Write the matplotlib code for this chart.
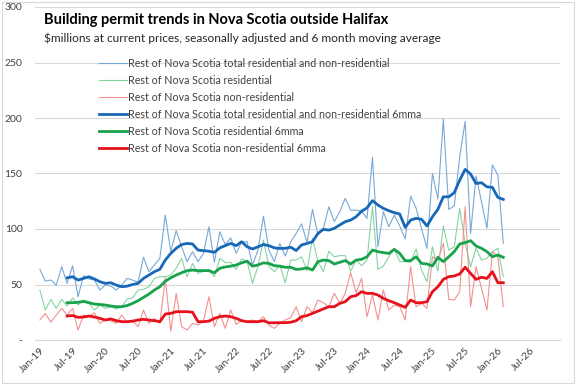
import numpy as np
import matplotlib
matplotlib.use("Agg")
import matplotlib.pyplot as plt
from matplotlib.patches import Rectangle

plt.rcParams['font.family'] = ['Lato', 'DejaVu Sans']

# monthly data, Jan-19 .. Feb-26 ($ millions, SA)
total = [63.7, 53, 54, 49.5, 66, 51, 67, 39, 58, 55, 54, 45, 49.5, 48.6, 45,
         49.5, 55.5, 54, 52, 74.5, 61.5, 67.6, 73.6, 112.6, 79.6, 98.5, 84, 70.6, 79.6, 70.6, 78,
         102, 70, 97.5, 86, 92, 78, 88.5, 88.5, 67.6, 81, 111.6, 81, 70.6, 87,
         75.6, 88.5, 96, 104.6, 87.7, 117.7, 94.6, 100.6, 120, 106.6, 115.6, 127.6, 117, 117, 116,
         109.5, 164.6, 84, 115.6, 102, 112.6, 102.7, 91, 129.7, 118.8, 100.5, 82.5, 150, 127, 199,
         117.7, 120.7, 165, 197, 96, 147.7, 124.6, 100.6, 157.7, 148.6, 87]
resid = [45, 27, 36.6, 28.5, 36.6, 30.6, 38, 31.5, 36, 33, 27, 31.5, 28.5, 30, 28,
         30, 36.9, 38, 45, 45.6, 48, 55.5, 57, 57, 58.5, 64.6, 73.6, 57, 69, 60, 62,
         63, 57, 73.6, 69.7, 70, 63.6, 73, 71, 51, 66.5, 90, 66.5, 61.6, 67.6,
         51.6, 72, 72, 75, 62.5, 91.6, 70.6, 61.6, 80, 75, 76, 76, 62, 72, 67,
         72, 120, 63.6, 66.6, 75, 82, 70.6, 70.6, 70, 82, 63, 52.5, 84, 62, 102.7,
         81, 84, 118.6, 87, 66, 82.6, 72, 73.6, 79.6, 82.6, 57]
nonres = [18, 24, 16, 22.5, 28.5, 22.5, 28.5, 9, 22.5, 21, 24.6, 15, 18, 17.4, 15,
          22.5, 16, 17.5, 12, 27, 15, 19.5, 15, 56, 8, 42, 12, 9, 15, 13.5, 17,
          39, 12, 24, 10.5, 27, 14, 18, 16.5, 18, 16.5, 21, 13.5, 10.5, 15,
          18, 20, 30, 16.5, 30, 24.6, 36, 33.6, 30, 42, 33, 42, 60.6, 42.6, 55.5,
          21, 40.6, 18, 45, 27, 31.5, 30, 18, 66, 30, 33, 28.5, 75, 72, 87,
          36.6, 36, 43.5, 120, 30, 66, 46.5, 27, 79.6, 75, 30]

# 6 month moving averages, Jun-19 .. Feb-26
total_ma = [56, 57, 54, 55.5, 57, 55, 52.5, 51, 51.6, 49.5, 48, 48.5, 50, 51, 55.5,
            58.5, 61.5, 63.7, 72, 78, 82.6, 86, 87, 86.5, 81, 80.5,
            80, 79, 83, 85, 87, 85, 88.5, 84, 82, 84, 86, 85, 83, 82.5,
            82.6, 83.6, 80.6, 85.6, 87, 88.5, 96, 99.7, 99, 100.6, 103.6, 106.6, 108, 111, 116,
            119, 125.6, 121.6, 118.6, 116.5, 114.7, 113.5, 101.5, 108, 109.6, 108.7, 102.7, 111,
            117.7, 129, 129, 132.7, 144, 153.7, 149.5, 141, 141.7, 138, 137.5, 128.5, 126.7]
resid_ma = [33.6, 33.6, 34, 34.8, 33.6, 32.4, 32, 31.5, 30.6, 30, 30, 31, 33, 35.4, 38.4,
            41.4, 45, 48, 53, 56, 58.5, 60.6, 62.5, 63, 62.5, 62.5,
            62.5, 60.6, 64.6, 65.8, 66.5, 67.6, 69.5, 71, 66.5, 67.6, 69.5, 69, 67, 66.5,
            65.5, 65.5, 63.6, 64, 65, 63, 70.6, 72, 71.5, 68.5, 70, 71.5, 68.5, 72, 72.7,
            75, 81, 79.6, 78.7, 78, 81.7, 78, 71.5, 71.5, 75, 69, 68.5, 66.7,
            74.5, 70.6, 75, 79.6, 86.5, 87.7, 89.5, 84.7, 82.6, 79.6, 75, 76.6, 74.5]
nonres_ma = [21.6, 22, 20.4, 20.7, 21.6, 20.7, 19.5, 18, 19, 17.4, 16.5, 16.5, 17, 18, 18.6,
             18, 17.4, 16.5, 23.4, 24, 25.5, 25.5, 25.5, 25, 16.5, 16.5,
             17, 19.5, 21, 21.6, 21, 19.5, 17.4, 16.5, 16.5, 16.5, 17.4, 15.5, 15.5, 15.6,
             15.6, 16, 17.4, 21, 22, 24, 26, 28, 30, 30, 33, 34.5, 39, 40, 43.5,
             42, 42, 40.5, 37.5, 35.4, 33.6, 31.5, 29.4, 36, 33.6, 33.6, 34.5, 43.5,
             48, 54.6, 57, 57.7, 59.5, 65.5, 60, 54.6, 56.5, 55.5, 61.5, 51.6, 51.6]

tick_labels = ['Jan-19', 'Jul-19', 'Jan-20', 'Jul-20', 'Jan-21', 'Jul-21', 'Jan-22', 'Jul-22',
               'Jan-23', 'Jul-23', 'Jan-24', 'Jul-24', 'Jan-25', 'Jul-25', 'Jan-26', 'Jul-26']

labels = ['Rest of Nova Scotia total residential and non-residential',
          'Rest of Nova Scotia residential',
          'Rest of Nova Scotia non-residential',
          'Rest of Nova Scotia total residential and non-residential 6mma',
          'Rest of Nova Scotia residential 6mma',
          'Rest of Nova Scotia non-residential 6mma']

x = np.arange(len(total))
x_ma = np.arange(5, 5 + len(total_ma))

fig = plt.figure(figsize=(5.77, 3.85), dpi=100)
ax = fig.add_axes([35 / 577, 45 / 385, 525 / 577, 333 / 385])

ax.plot(x, total, color='#78a8d8', lw=0.8, label=labels[0])
ax.plot(x, resid, color='#86d3a2', lw=0.8, label=labels[1])
ax.plot(x, nonres, color='#f29090', lw=0.8, label=labels[2])
ax.plot(x_ma, total_ma, color='#1868b8', lw=2.0, label=labels[3])
ax.plot(x_ma, resid_ma, color='#17a24b', lw=2.0, label=labels[4])
ax.plot(x_ma, nonres_ma, color='#e5111b', lw=2.0, label=labels[5])

ax.set_xlim(-0.9, 95.4)
ax.set_ylim(0, 300)
ax.set_yticks(range(0, 301, 50))
ax.set_yticklabels(['-'] + [str(v) for v in range(50, 301, 50)])
ax.set_xticks(range(0, 91, 6))
ax.set_xticklabels(tick_labels, rotation=45, ha='right', rotation_mode='anchor')
ax.tick_params(length=0, labelsize=7.5, colors='#404040')
ax.tick_params(axis='y', pad=9)
ax.tick_params(axis='x', pad=4)
ax.grid(axis='y', color='#d9d9d9', lw=0.8)
ax.set_axisbelow(True)
for s in ['top', 'right', 'left']:
    ax.spines[s].set_visible(False)
ax.spines['bottom'].set_color('#d9d9d9')

leg = ax.legend(loc='upper left', bbox_to_anchor=(0.122, 0.847), frameon=False,
                fontsize=7.7, handlelength=2.6, handletextpad=0.15,
                labelspacing=0.56, borderpad=0, borderaxespad=0)
for t in leg.get_texts():
    t.set_color('#404040')

fig.text(44 / 577, 1 - 20 / 385, 'Building permit trends in Nova Scotia outside Halifax',
         fontsize=10.5, fontweight='bold', va='center', ha='left')
fig.text(44 / 577, 1 - 38 / 385,
         '$millions at current prices, seasonally adjusted and 6 month moving average',
         fontsize=8.6, va='center', ha='left', color='#262626')

fig.patches.append(Rectangle((0.003, 0.004), 0.992, 0.992, transform=fig.transFigure,
                             fill=False, edgecolor='#d9d9d9', lw=0.8))

fig.savefig('out.png', dpi=100)
